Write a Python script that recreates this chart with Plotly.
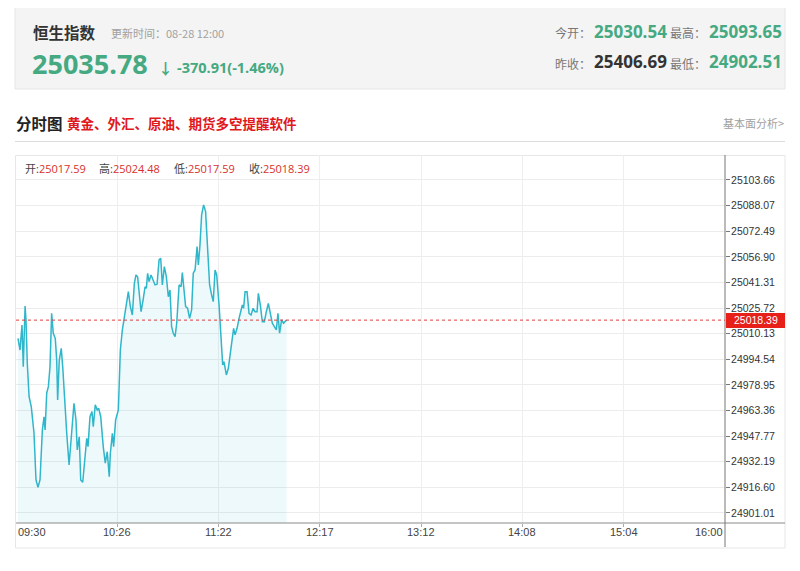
import plotly.graph_objects as go

# ---------------- data ----------------
# minutes after 09:30 and index level
minutes = [1.1, 2.2, 3.3, 4.0, 5.0, 5.5, 6.2, 7.2, 8.4, 9.9, 11.0, 12.1, 13.2, 14.5, 15.4, 16.0,
           16.9, 17.8, 18.7, 19.6, 20.5, 21.6, 22.4, 22.9, 23.8, 24.9, 25.7, 26.8, 27.9, 29.2,
           30.4, 31.9, 33.0, 33.7, 34.8, 35.6, 36.7, 37.8, 38.9, 39.6, 40.7, 41.8, 42.5, 43.6,
           44.7, 45.5, 46.6, 48.0, 49.1, 50.2, 51.3, 51.9, 53.0, 53.7, 54.8, 56.3, 57.4, 58.5,
           59.6, 60.7, 61.8, 62.9, 64.0, 65.1, 66.0, 66.9, 68.0, 68.8, 69.9, 71.0, 71.7, 72.4,
           73.2, 74.3, 75.4, 76.5, 77.6, 78.7, 79.6, 80.5, 81.6, 82.7, 83.8, 84.7, 85.6, 86.5,
           87.5, 88.4, 89.7, 90.8, 91.5, 92.2, 93.3, 94.4, 95.5, 96.6, 97.5, 98.5, 99.6, 100.3,
           101.2, 102.1, 103.2, 104.3, 105.4, 106.5, 107.6, 108.5, 109.5, 110.4, 111.7, 112.8,
           113.7, 114.4, 115.7, 116.8, 117.9, 119.0, 119.7, 120.5, 121.6, 122.7, 123.8, 124.5,
           125.2, 126.0, 127.1, 128.2, 129.3, 130.4, 131.5, 132.6, 133.3, 134.4, 135.5, 136.6,
           137.7, 138.8, 139.9, 141.0, 142.1, 143.2, 144.1, 145.0, 146.1, 147.2, 148.3, 148.9]
index_values = [25007.3, 25000.2, 25015.4, 24990.0, 25027.0, 25018.5, 24992.3, 24971.8, 24965.7,
                24949.7, 24921.1, 24916.7, 24921.1, 24951.5, 24959.6, 24951.5, 24974.0, 24977.9,
                24990.0, 25022.5, 25010.4, 25007.3, 24994.1, 24969.8, 24994.1, 25001.2, 24990.0,
                24965.7, 24949.7, 24930.2, 24945.4, 24967.8, 24957.6, 24939.4, 24947.4, 24921.1,
                24919.7, 24935.3, 24946.5, 24941.4, 24959.6, 24962.7, 24953.5, 24966.8, 24963.7,
                24964.7, 24959.6, 24941.4, 24931.3, 24938.3, 24923.1, 24937.4, 24949.5, 24941.4,
                24957.6, 24963.7, 25000.2, 25012.4, 25020.5, 25028.6, 25035.7, 25026.6, 25021.5,
                25040.8, 25045.9, 25044.8, 25030.6, 25023.5, 25030.6, 25038.7, 25037.7, 25046.9,
                25041.8, 25045.9, 25042.8, 25039.8, 25040.2, 25055.0, 25056.0, 25039.8, 25050.9,
                25044.8, 25032.6, 25036.7, 25014.4, 25010.4, 25008.3, 25016.5, 25039.8, 25038.7,
                25047.3, 25038.7, 25026.6, 25025.6, 25019.5, 25024.6, 25046.9, 25048.9, 25063.1,
                25051.9, 25064.1, 25082.4, 25088.5, 25084.4, 25064.1, 25039.8, 25033.7, 25029.6,
                25048.9, 25045.9, 25027.6, 25009.4, 24991.1, 24993.1, 24985.0, 24989.1, 24999.2,
                25009.4, 25013.4, 25009.4, 25013.4, 25019.5, 25024.6, 25027.6, 25025.6, 25035.7,
                25035.7, 25022.5, 25021.5, 25025.6, 25023.5, 25023.5, 25034.7, 25027.6, 25017.4,
                25017.4, 25023.5, 25028.6, 25022.5, 25016.5, 25014.4, 25012.4, 25022.5, 25010.4,
                25018.5, 25016.5, 25017.9, 25018.39]

y_tick_values = [25103.66, 25088.07, 25072.49, 25056.90, 25041.31, 25025.72, 25010.13,
                 24994.54, 24978.95, 24963.36, 24947.77, 24932.19, 24916.60, 24901.01]
x_tick_labels = ["09:30", "10:26", "11:22", "12:17", "13:12", "14:08", "15:04", "16:00"]
session_minutes = 390
last_price = 25018.39
y_range = [24894.92, 25118.87]

header = {"name": "恒生指数", "update": "更新时间：08-28 12:00", "price": "25035.78",
          "change": "-370.91(-1.46%)", "open": "25030.54", "high": "25093.65",
          "prev_close": "25406.69", "low": "24902.51"}
bar_info = [("开:", "25017.59"), ("高:", "25024.48"), ("低:", "25017.59"), ("收:", "25018.39")]

# ---------------- layout helpers ----------------
# the page body has an 8px margin, so the figure is drawn 8px in and down
OFF = 8
W, H = 800 - OFF, 571 - OFF
L, R, T, B = 16 - OFF, 75, 155 - OFF, 48
PW, PH = W - L - R, H - T - B


def X(px):  # screen pixel -> paper
    return (px - OFF - L) / PW


def Y(py):
    return (H - B - (py - OFF)) / PH


FONT = "Open Sans, Noto Sans CJK SC, sans-serif"
CJK = "Noto Sans CJK SC, sans-serif"
GREEN = "#45a982"
RED_TXT = "#d9302a"
LINE_C = "#2fb6ca"

fig = go.Figure()
fig.add_trace(go.Scatter(
    x=minutes, y=index_values, mode="lines",
    line=dict(color=LINE_C, width=1.5),
    fill="tozeroy", fillcolor="rgba(43,180,201,0.08)",
    hoverinfo="skip", showlegend=False))

x_ticks = [i * session_minutes / 7 for i in range(8)]

shapes = []
annotations = []

# top summary box
shapes.append(dict(type="rect", xref="paper", yref="paper", x0=X(15), x1=X(785), y0=Y(89), y1=Y(5),
                   fillcolor="#f4f4f4", line=dict(color="#e6e6e6", width=1), layer="below"))
# section divider
shapes.append(dict(type="line", xref="paper", yref="paper", x0=X(15), x1=X(785), y0=Y(141.5), y1=Y(141.5),
                   line=dict(color="#dddddd", width=1)))
# chart frame
shapes.append(dict(type="rect", xref="paper", yref="paper", x0=X(15.5), x1=X(785), y0=Y(548), y1=Y(155.5),
                   line=dict(color="#e6e6e6", width=1), layer="below"))
# extended axis lines
shapes.append(dict(type="line", xref="paper", yref="paper", x0=X(16), x1=X(785), y0=Y(523), y1=Y(523),
                   line=dict(color="#8a8a8a", width=1)))
shapes.append(dict(type="line", xref="paper", yref="paper", x0=X(725), x1=X(725), y0=Y(547), y1=Y(155),
                   line=dict(color="#777777", width=1)))
# last price dotted line
shapes.append(dict(type="line", xref="paper", yref="y", x0=0, x1=1, y0=last_price, y1=last_price,
                   line=dict(color="#e23b3b", width=1, dash="dot")))
# last price tag
shapes.append(dict(type="rect", xref="paper", yref="paper", x0=X(726), x1=X(785), y0=Y(328), y1=Y(313),
                   fillcolor="#e8201a", line=dict(width=0)))
annotations.append(dict(xref="paper", yref="y", x=X(755.5), y=last_price, text=f"{last_price:.2f}",
                        showarrow=False, font=dict(family="Liberation Sans, sans-serif", size=10.5, color="white"),
                        xanchor="center", yanchor="middle"))


def txt(px, py, text, size, color, bold=False, anchor="left", family=FONT):
    annotations.append(dict(xref="paper", yref="paper", x=X(px), y=Y(py),
                            text=f"<b>{text}</b>" if bold else text, showarrow=False,
                            font=dict(family=family, size=size, color=color),
                            xanchor=anchor, yanchor="middle"))


txt(31, 32, header["name"], 15.5, "#333333", bold=True, family=CJK)
txt(109, 33, header["update"], 11, "#a0a0a0", family=CJK)
txt(30, 63, header["price"], 27, GREEN, bold=True)
txt(156, 68, "↓", 15, GREEN, bold=True)
txt(175, 68, header["change"], 14.5, GREEN, bold=True)

txt(553, 33, "今开：", 12, "#777777", family=CJK)
txt(592, 32, header["open"], 17, GREEN, bold=True)
txt(668, 33, "最高：", 12, "#777777", family=CJK)
txt(707, 32, header["high"], 17, GREEN, bold=True)
txt(553, 63, "昨收：", 12, "#777777", family=CJK)
txt(592, 62, header["prev_close"], 17, "#333333", bold=True)
txt(668, 63, "最低：", 12, "#777777", family=CJK)
txt(707, 62, header["low"], 17, GREEN, bold=True)

txt(14, 123, "分时图", 15.5, "#222222", bold=True, family=CJK)
txt(65, 123, "黄金、外汇、原油、期货多空提醒软件", 13.5, "#e0171b", bold=True, family=CJK)
txt(786, 123, "基本面分析>", 11, "#a0a0a0", anchor="right", family=CJK)

# OHLC info row
info_x = [23, 97, 172, 247]
for (lab, val), px in zip(bar_info, info_x):
    annotations.append(dict(xref="paper", yref="paper", x=X(px), y=Y(169),
                            text=f"<span style='color:#444444'>{lab}</span><span style='color:{RED_TXT}'>{val}</span>",
                            showarrow=False, font=dict(family=FONT, size=11),
                            xanchor="left", yanchor="middle"))

# x tick labels
for i, (tv, lab) in enumerate(zip(x_ticks, x_tick_labels)):
    anchor = "left" if i == 0 else ("right" if i == len(x_ticks) - 1 else "center")
    annotations.append(dict(xref="x", yref="paper", x=tv, y=Y(532), text=lab, showarrow=False,
                            font=dict(family="Liberation Sans, sans-serif", size=11, color="#444444"),
                            xanchor=anchor, yanchor="middle"))

fig.update_layout(
    width=W, height=H,
    margin=dict(l=L, r=R, t=T, b=B),
    paper_bgcolor="white", plot_bgcolor="white",
    showlegend=False,
    shapes=shapes, annotations=annotations,
    xaxis=dict(range=[0, session_minutes], tickvals=x_ticks[1:-1], showticklabels=False,
               showgrid=True, gridcolor="#eeeeee", gridwidth=1, zeroline=False,
               showline=False, ticks="outside", ticklen=3, tickcolor="#aaaaaa", fixedrange=True),
    yaxis=dict(range=y_range, side="right", tickvals=y_tick_values,
               ticktext=[f"{v:.2f}" for v in y_tick_values],
               showgrid=True, gridcolor="#ececec", gridwidth=1, zeroline=False,
               showline=False, ticks="outside", ticklen=4, tickcolor="#777777",
               ticklabelstandoff=-1,
               tickfont=dict(family="Liberation Sans, sans-serif", size=10.5, color="#333333"),
               fixedrange=True),
)

fig.write_html("out.html")
